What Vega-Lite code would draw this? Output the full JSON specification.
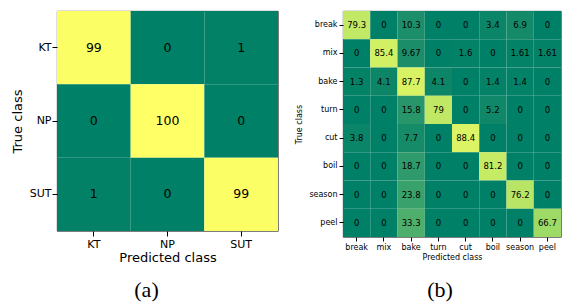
{
  "$schema": "https://vega.github.io/schema/vega-lite/v6.json",
  "background": "white",
  "padding": {"left": 10, "top": 10, "right": 2, "bottom": 0},
  "spacing": 16,
  "config": {
    "view": {"stroke": "#333333", "strokeWidth": 0.8},
    "font": "DejaVu Sans",
    "axis": {"grid": false, "domain": false, "labelColor": "black", "titleColor": "black", "tickColor": "black", "labelFont": "DejaVu Sans", "titleFont": "DejaVu Sans", "titleFontWeight": "normal"}
  },
  "hconcat": [
    {
      "width": 221,
      "height": 220,
      "title": {"text": "(a)", "orient": "bottom", "font": "Liberation Serif", "fontSize": 22, "fontWeight": "normal", "color": "black", "frame": "group", "dx": -21, "offset": 16},
      "data": {"values": [
        {"t": "KT", "p": "KT", "v": 99}, {"t": "KT", "p": "NP", "v": 0}, {"t": "KT", "p": "SUT", "v": 1},
        {"t": "NP", "p": "KT", "v": 0}, {"t": "NP", "p": "NP", "v": 100}, {"t": "NP", "p": "SUT", "v": 0},
        {"t": "SUT", "p": "KT", "v": 1}, {"t": "SUT", "p": "NP", "v": 0}, {"t": "SUT", "p": "SUT", "v": 99}
      ]},
      "encoding": {
        "x": {"field": "p", "type": "nominal", "sort": ["KT", "NP", "SUT"], "scale": {"paddingInner": 0, "paddingOuter": 0},
          "axis": {"title": "Predicted class", "labelAngle": 0, "labelFontSize": 11, "titleFontSize": 13, "tickSize": 5, "labelPadding": 2, "titlePadding": 2}},
        "y": {"field": "t", "type": "nominal", "sort": ["KT", "NP", "SUT"], "scale": {"paddingInner": 0, "paddingOuter": 0},
          "axis": {"title": "True class", "labelFontSize": 11, "titleFontSize": 13, "tickSize": 5, "labelPadding": 1, "titlePadding": 5}}
      },
      "layer": [
        {"mark": {"type": "rect"},
         "encoding": {"color": {"field": "v", "type": "quantitative", "scale": {"domain": [0, 100], "range": ["#008066", "#ffff66"]}, "legend": null}}},
        {"mark": {"type": "text", "fontSize": 12.5, "color": "black", "font": "DejaVu Sans"},
         "encoding": {"text": {"field": "v", "type": "nominal"}}}
      ]
    },
    {
      "width": 218,
      "height": 226,
      "title": {"text": "(b)", "orient": "bottom", "font": "Liberation Serif", "fontSize": 22, "fontWeight": "normal", "color": "black", "frame": "group", "dx": -12, "offset": 19},
      "data": {"values": [
        {"t": "break", "p": "break", "v": 79.3}, {"t": "break", "p": "mix", "v": 0}, {"t": "break", "p": "bake", "v": 10.3}, {"t": "break", "p": "turn", "v": 0}, {"t": "break", "p": "cut", "v": 0}, {"t": "break", "p": "boil", "v": 3.4}, {"t": "break", "p": "season", "v": 6.9}, {"t": "break", "p": "peel", "v": 0},
        {"t": "mix", "p": "break", "v": 0}, {"t": "mix", "p": "mix", "v": 85.4}, {"t": "mix", "p": "bake", "v": 9.67}, {"t": "mix", "p": "turn", "v": 0}, {"t": "mix", "p": "cut", "v": 1.6}, {"t": "mix", "p": "boil", "v": 0}, {"t": "mix", "p": "season", "v": 1.61}, {"t": "mix", "p": "peel", "v": 1.61},
        {"t": "bake", "p": "break", "v": 1.3}, {"t": "bake", "p": "mix", "v": 4.1}, {"t": "bake", "p": "bake", "v": 87.7}, {"t": "bake", "p": "turn", "v": 4.1}, {"t": "bake", "p": "cut", "v": 0}, {"t": "bake", "p": "boil", "v": 1.4}, {"t": "bake", "p": "season", "v": 1.4}, {"t": "bake", "p": "peel", "v": 0},
        {"t": "turn", "p": "break", "v": 0}, {"t": "turn", "p": "mix", "v": 0}, {"t": "turn", "p": "bake", "v": 15.8}, {"t": "turn", "p": "turn", "v": 79}, {"t": "turn", "p": "cut", "v": 0}, {"t": "turn", "p": "boil", "v": 5.2}, {"t": "turn", "p": "season", "v": 0}, {"t": "turn", "p": "peel", "v": 0},
        {"t": "cut", "p": "break", "v": 3.8}, {"t": "cut", "p": "mix", "v": 0}, {"t": "cut", "p": "bake", "v": 7.7}, {"t": "cut", "p": "turn", "v": 0}, {"t": "cut", "p": "cut", "v": 88.4}, {"t": "cut", "p": "boil", "v": 0}, {"t": "cut", "p": "season", "v": 0}, {"t": "cut", "p": "peel", "v": 0},
        {"t": "boil", "p": "break", "v": 0}, {"t": "boil", "p": "mix", "v": 0}, {"t": "boil", "p": "bake", "v": 18.7}, {"t": "boil", "p": "turn", "v": 0}, {"t": "boil", "p": "cut", "v": 0}, {"t": "boil", "p": "boil", "v": 81.2}, {"t": "boil", "p": "season", "v": 0}, {"t": "boil", "p": "peel", "v": 0},
        {"t": "season", "p": "break", "v": 0}, {"t": "season", "p": "mix", "v": 0}, {"t": "season", "p": "bake", "v": 23.8}, {"t": "season", "p": "turn", "v": 0}, {"t": "season", "p": "cut", "v": 0}, {"t": "season", "p": "boil", "v": 0}, {"t": "season", "p": "season", "v": 76.2}, {"t": "season", "p": "peel", "v": 0},
        {"t": "peel", "p": "break", "v": 0}, {"t": "peel", "p": "mix", "v": 0}, {"t": "peel", "p": "bake", "v": 33.3}, {"t": "peel", "p": "turn", "v": 0}, {"t": "peel", "p": "cut", "v": 0}, {"t": "peel", "p": "boil", "v": 0}, {"t": "peel", "p": "season", "v": 0}, {"t": "peel", "p": "peel", "v": 66.7}
      ]},
      "encoding": {
        "x": {"field": "p", "type": "nominal", "sort": ["break", "mix", "bake", "turn", "cut", "boil", "season", "peel"], "scale": {"paddingInner": 0, "paddingOuter": 0},
          "axis": {"title": "Predicted class", "labelAngle": 0, "labelFontSize": 8, "titleFontSize": 8, "tickSize": 4, "labelPadding": 2, "titlePadding": 2}},
        "y": {"field": "t", "type": "nominal", "sort": ["break", "mix", "bake", "turn", "cut", "boil", "season", "peel"], "scale": {"paddingInner": 0, "paddingOuter": 0},
          "axis": {"title": "True class", "labelFontSize": 8, "titleFontSize": 8, "tickSize": 4, "labelPadding": 2, "titlePadding": 5}}
      },
      "layer": [
        {"mark": {"type": "rect"},
         "encoding": {"color": {"field": "v", "type": "quantitative", "scale": {"domain": [0, 88.4], "range": ["#008066", "#ffff66"]}, "legend": null}}},
        {"mark": {"type": "text", "fontSize": 8.5, "color": "black", "font": "DejaVu Sans"},
         "encoding": {"text": {"field": "v", "type": "nominal"}}}
      ]
    }
  ]
}
